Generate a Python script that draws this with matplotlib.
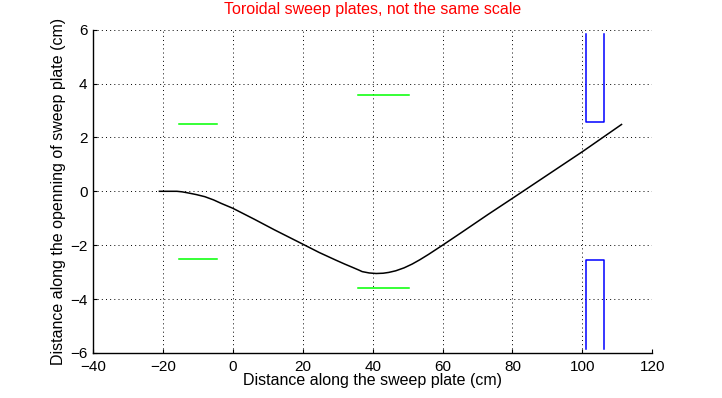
import matplotlib
matplotlib.use("Agg")
import matplotlib.pyplot as plt

plt.rcParams['font.family'] = ['Liberation Sans', 'DejaVu Sans']
plt.rcParams['lines.scale_dashes'] = False

# trajectory along the sweep plates
path_x = [-21, -16, -14.5, -12.8, -10.5, -8, -5.5, -3.3, 0, 6.2, 11.9, 20, 24.7, 29.4,
          32, 34.2, 36, 37, 39, 41, 43, 44.6, 46.6, 49, 51.3, 53.5, 56, 60, 65.4, 73, 80,
          100, 111.2]
path_y = [0, 0, -0.02, -0.06, -0.12, -0.2, -0.32, -0.45, -0.63, -1.04, -1.43, -1.96,
          -2.27, -2.55, -2.70, -2.82, -2.92, -2.98, -3.03, -3.05, -3.04, -3.01, -2.95,
          -2.84, -2.70, -2.54, -2.34, -2.0, -1.53, -0.86, -0.26, 1.47, 2.48]

# first plate pair (green)
plate1_x = [-15.5, -4.5]
plate1_y = 2.5
# second plate pair (green)
plate2_x = [35.7, 50.5]
plate2_y = 3.57
# exit slit (blue), open U shapes
slit_x = [101, 101, 106.1, 106.1]
slit_top_y = [5.85, 2.56, 2.56, 5.85]
slit_bot_y = [-5.84, -2.55, -2.55, -5.84]

fig = plt.figure(figsize=(7.22, 3.98), dpi=100)
ax = fig.add_axes([93 / 722, 45 / 398, 559.3 / 722, 323.4 / 398])

ax.plot(path_x, path_y, color='black', lw=1.1)
ax.plot(plate1_x, [plate1_y, plate1_y], color='#00ff00', lw=1.1)
ax.plot(plate1_x, [-plate1_y, -plate1_y], color='#00ff00', lw=1.1)
ax.plot(plate2_x, [plate2_y, plate2_y], color='#00ff00', lw=1.1)
ax.plot(plate2_x, [-plate2_y, -plate2_y], color='#00ff00', lw=1.1)
ax.plot(slit_x, slit_top_y, color='blue', lw=1.1)
ax.plot(slit_x, slit_bot_y, color='blue', lw=1.1)

ax.set_xlim(-40, 120)
ax.set_ylim(-6, 6)
ax.set_xticks(range(-40, 121, 20))
ax.set_yticks(range(-6, 7, 2))
ax.grid(True, color='black', linestyle=(0, (0.7, 2.3)), linewidth=0.7)

for s in ['top', 'right']:
    ax.spines[s].set_visible(False)
for s in ['left', 'bottom']:
    ax.spines[s].set_linewidth(1.0)

ax.tick_params(direction='in', length=3, width=0.8, labelsize=11)
ax.tick_params(axis='x', pad=5)
ax.tick_params(axis='y', pad=4)

ax.set_title('Toroidal sweep plates, not the same scale', color='red', fontsize=11.5, pad=11)
ax.set_xlabel('Distance along the sweep plate (cm)', fontsize=11.5, labelpad=-1)
ax.set_ylabel('Distance along the openning of sweep plate (cm)', fontsize=11.5, labelpad=3)

fig.savefig('out.png', dpi=100)
